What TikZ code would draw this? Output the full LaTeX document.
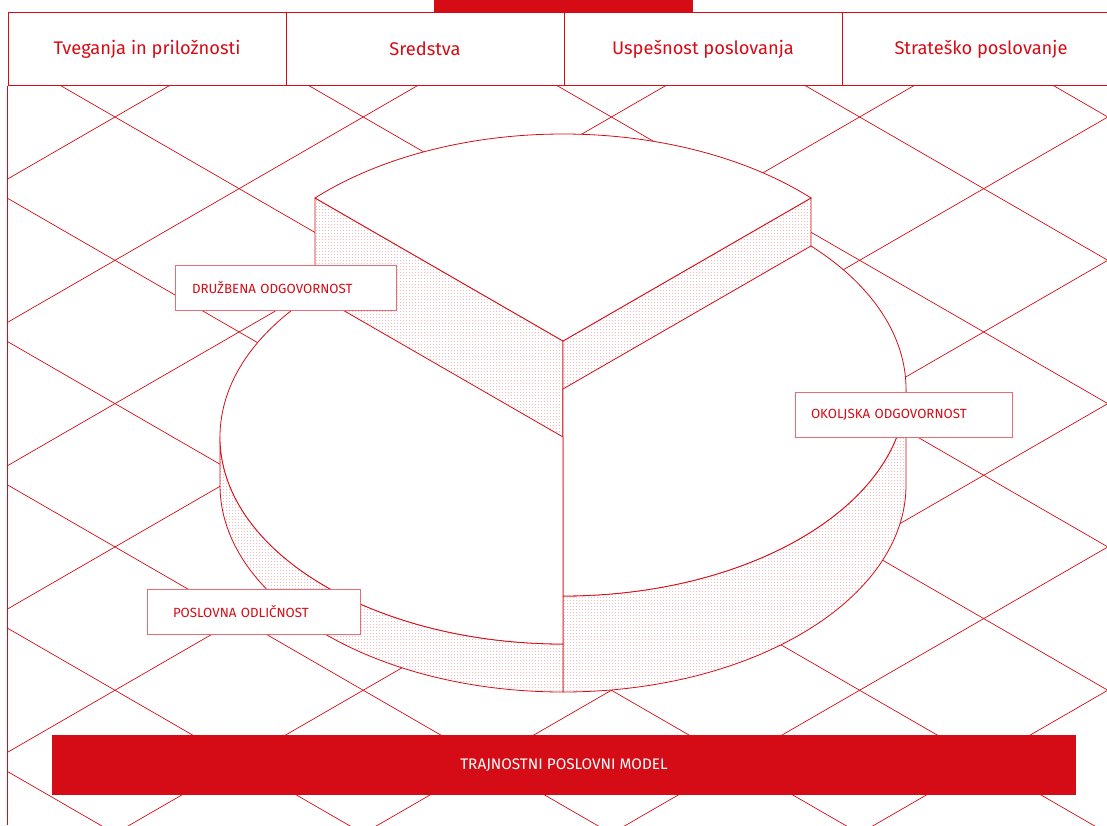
\documentclass[tikz,border=0pt]{standalone}
\usepackage{fontspec}
\setmainfont{Fira Sans}
\usetikzlibrary{patterns.meta, positioning}
\definecolor{ssRed}{HTML}{D50C15}
\tikzdeclarepattern{name=pieDots, bounding box={(0pt,0pt) and (3.3pt,3.3pt)},
    tile size={(3.3pt,3.3pt)}, code={\fill (0pt,0pt) rectangle (0.9pt,0.9pt);}}

\begin{document}
\begin{tikzpicture}[x=1pt, y=1pt, line width=0.8pt,
    grid/.style={ssRed, line width=0.7pt},
    cell/.style={draw=ssRed, fill=white, minimum width=278pt, minimum height=73pt, inner sep=0pt,
        text=ssRed, font=\fontsize{18.3}{21}\selectfont},
    lid/.style={draw=ssRed, fill=white},
    face/.style={draw=ssRed, preaction={fill=white}, pattern=pieDots, pattern color=ssRed!65},
    lbl/.style={draw=ssRed!60, fill=white, minimum height=45pt, align=left, text=ssRed,
        font=\fontsize{13.3}{15}\selectfont},
    bar/.style={fill=ssRed, minimum width=1024pt, minimum height=60pt, text=white,
        font=\fontsize{15.3}{17}\selectfont}]
    \useasboundingbox (0,0) rectangle (1107,825);
    % background lattice
    \begin{scope}
        \clip (8,0) rectangle (1107,740);
        \foreach \k in {-6,...,9}{
            \draw[grid] ({115+248.2*\k-1500},{708+866.1}) -- ({115+248.2*\k+1500},{708-866.1});
            \draw[grid] ({115+248.2*\k-1500},{708-866.1}) -- ({115+248.2*\k+1500},{708+866.1});
        }
    \end{scope}
    % header
    \fill[ssRed] (434,813) rectangle (693,825);
    \node[cell] (H1) at (147,776) {Tveganja in priložnosti};
    \node[cell] (H2) at (425,776) {Sredstva};
    \node[cell] (H3) at (703,776) {Uspešnost poslovanja};
    \node[cell] (H4) at (981,776) {Strateško poslovanje};
    \draw[ssRed] (H1.south west) -- (H1.south west |- 0,0);
    % top piece
    \draw[face] (315,627) -- (563,484) -- (563,340) -- (315,483) -- cycle;
    \draw[face] (811,627) -- (563,484) -- (563,340) -- (811,483) -- cycle;
    \draw[lid] (563,484) -- (811,627) arc[start angle=43.7, end angle=136.3, x radius=343pt, y radius=207pt] -- cycle;
    % right piece
    \draw[face] (906,436) arc[start angle=0, end angle=-90, x radius=343pt, y radius=207pt]
        -- (563,133) arc[start angle=-90, end angle=0, x radius=343pt, y radius=207pt] -- cycle;
    \draw[lid] (563,436) -- (563,229) arc[start angle=-90, end angle=43.7, x radius=343pt, y radius=207pt] -- cycle;
    % left piece
    \draw[face] (220,388) arc[start angle=180, end angle=270, x radius=343pt, y radius=207pt]
        -- (563,133) arc[start angle=270, end angle=180, x radius=343pt, y radius=207pt] -- cycle;
    \draw[lid] (563,388) -- (315,531) arc[start angle=136.3, end angle=270, x radius=343pt, y radius=207pt] -- cycle;
    % labels
    \node[lbl, text width=187pt, inner xsep=17pt] (L1) at (285.5,537) {DRUŽBENA ODGOVORNOST};
    \node[lbl, text width=185pt, inner xsep=16pt] (L2) at (903.5,410.5) {OKOLJSKA ODGOVORNOST};
    \node[lbl, text width=161pt, inner xsep=26pt] (L3) at (253.5,213.5) {POSLOVNA ODLIČNOST};
    \node[bar] (M) at (564,60) {TRAJNOSTNI POSLOVNI MODEL};
\end{tikzpicture}
\end{document}
